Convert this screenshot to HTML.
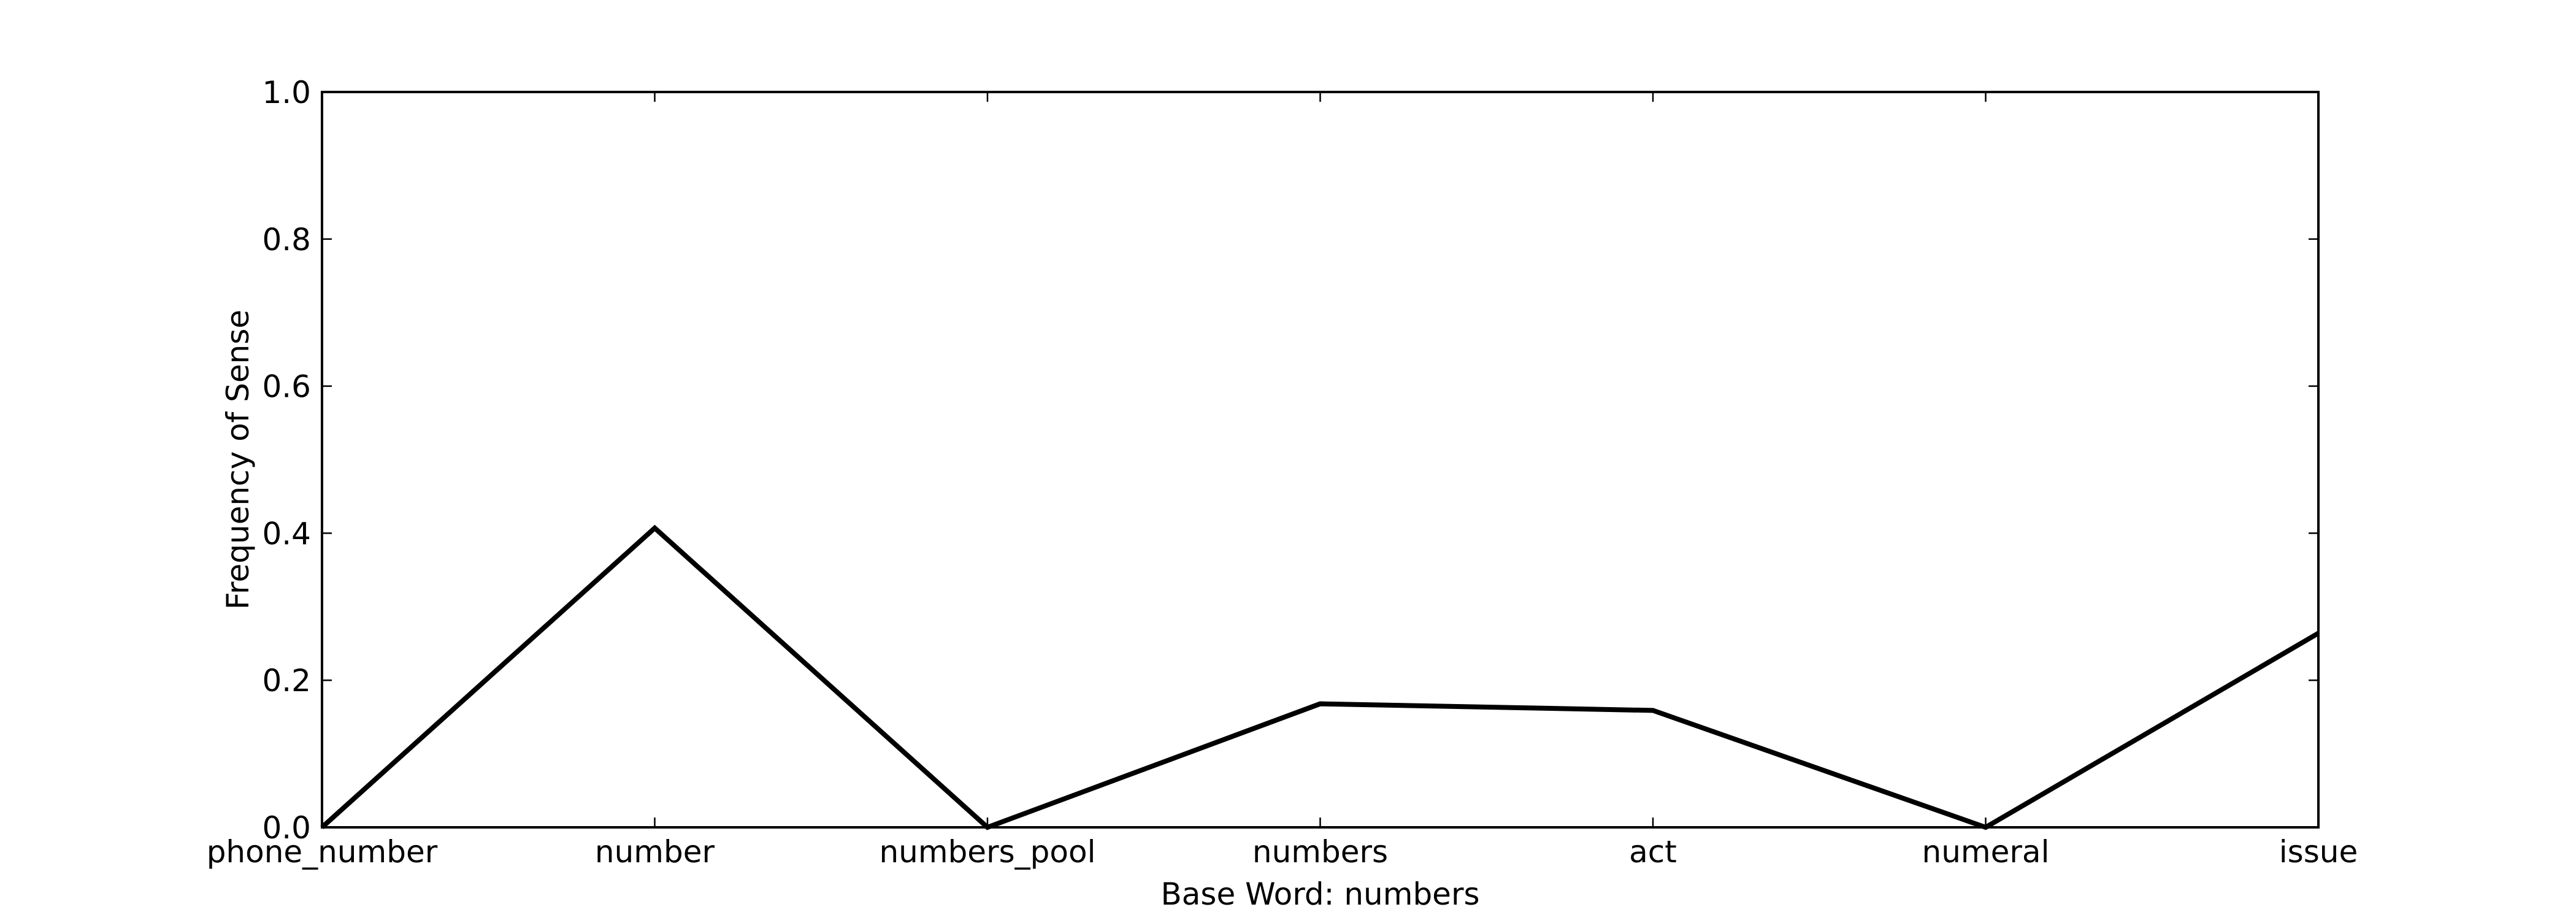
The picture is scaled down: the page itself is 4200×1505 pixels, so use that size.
<!DOCTYPE html>
<html><head><meta charset="utf-8"><style>
html,body{margin:0;padding:0;background:#fff;}
svg text{font-family:"DejaVu Sans","Liberation Sans",sans-serif;fill:#000;}
</style></head><body>
<svg id="chart" width="4200" height="1500" xmlns="http://www.w3.org/2000/svg">
<rect width="4200" height="1500" fill="#fff"/>
<g id="plot"></g>
</svg>
<script>
const categories = ["phone_number","number","numbers_pool","numbers","act","numeral","issue"];
const frequencies = [0.0, 0.407, 0.0, 0.168, 0.159, 0.0, 0.264];
const yTicks = [0.0, 0.2, 0.4, 0.6, 0.8, 1.0];
const yTickLabels = ["0.0","0.2","0.4","0.6","0.8","1.0"];

const L=525, R=3780, T=150, B=1349;
const NS="http://www.w3.org/2000/svg";
const g=document.getElementById('plot');
function x(i){return L+(R-L)*i/(categories.length-1);}
function y(v){return B-(B-T)*v;}
function mk(tag,attrs){const e=document.createElementNS(NS,tag);for(const k in attrs)e.setAttribute(k,attrs[k]);g.appendChild(e);return e;}

yTicks.forEach((v,i)=>{
  const t1=mk('line',{x1:L,x2:L+16,y1:y(v),y2:y(v),stroke:'#000','stroke-width':2.5});
  
  
  const t2=mk('line',{x1:R-16,x2:R,y1:y(v),y2:y(v),stroke:'#000','stroke-width':2.5});
  
  
  const lb=mk('text',{x:L-18,y:y(v)+18,'font-size':50,'text-anchor':'end'});
  lb.textContent=yTickLabels[i];
  
  
});
categories.forEach((c,i)=>{
  const t1=mk('line',{x1:x(i),x2:x(i),y1:B,y2:B-16,stroke:'#000','stroke-width':2.5});
  
  
  const t2=mk('line',{x1:x(i),x2:x(i),y1:T,y2:T+16,stroke:'#000','stroke-width':2.5});
  
  
  const lb=mk('text',{x:x(i),y:B+57,'font-size':50,'text-anchor':'middle'});
  lb.textContent=c;
  
  
});

const pts=frequencies.map((v,i)=>x(i)+','+y(v)).join(' ');
const line=mk('polyline',{points:pts,fill:'none',stroke:'#000','stroke-width':8,'stroke-linejoin':'miter'});



const fr=mk('rect',{x:L,y:T,width:R-L,height:B-T,fill:'none',stroke:'#000','stroke-width':4});



const xl=mk('text',{x:(L+R)/2,y:1475,'font-size':50,'text-anchor':'middle'});
xl.textContent='Base Word: numbers';


const yl=mk('text',{x:0,y:0,'font-size':50,'text-anchor':'middle',transform:'translate(405,'+((T+B)/2)+') rotate(-90)'});
yl.textContent='Frequency of Sense';


</script>
</body></html>
